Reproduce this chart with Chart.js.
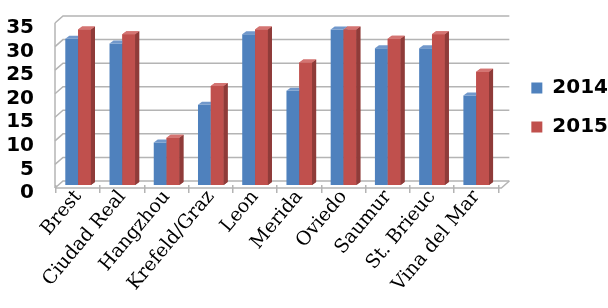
<!DOCTYPE html>
<html lang="en">
<head>
  <meta charset="UTF-8" />
  <title>2014 / 2015</title>
  <script src="https://cdn.jsdelivr.net/npm/chart.js"></script>
  <style>
    html, body { margin: 0; padding: 0; background: #fff; }
    #wrap { width: 608px; height: 308px; position: relative; }
  </style>
</head>
<body>
  <div id="wrap"><canvas id="grafico"></canvas></div>
  <script>
    const ciudades = ['Brest', 'Ciudad Real', 'Hangzhou', 'Krefeld/Graz', 'Leon', 'Merida', 'Oviedo', 'Saumur', 'St. Brieuc', 'Vina del Mar'];
    const valores2014 = [31, 30, 9, 17, 32, 20, 33, 29, 29, 19];
    const valores2015 = [33, 32, 10, 21, 33, 26, 33, 31, 32, 24];
    const yTicks = [0, 5, 10, 15, 20, 25, 30, 35];

    const gris = '#b4b4b4';
    const fondo = { dx: 7, dy: -4 };   // back wall offset
    const frente = { dx: -1, dy: 3 };  // front floor edge offset
    const prof = { dx: 4, dy: -3 };    // bar depth

    const caras = [
      { lado: '#3b5f8e', tapa: '#7198cb' },
      { lado: '#8f3b39', tapa: '#d47472' }
    ];

    function dibujarCaras(ctx, meta, c) {
      ctx.save();
      meta.data.forEach(b => {
        const l = b.x - b.width / 2, r = b.x + b.width / 2;
        ctx.fillStyle = c.lado;
        ctx.beginPath();
        ctx.moveTo(r, b.y);
        ctx.lineTo(r + prof.dx, b.y + prof.dy);
        ctx.lineTo(r + prof.dx, b.base + prof.dy);
        ctx.lineTo(r, b.base);
        ctx.closePath();
        ctx.fill();
        ctx.fillStyle = c.tapa;
        ctx.beginPath();
        ctx.moveTo(l, b.y);
        ctx.lineTo(l + prof.dx, b.y + prof.dy);
        ctx.lineTo(r + prof.dx, b.y + prof.dy);
        ctx.lineTo(r, b.y);
        ctx.closePath();
        ctx.fill();
      });
      ctx.restore();
    }

    // walls, floor and gridlines in fake 3D
    const paredes = {
      id: 'paredes',
      afterLayout(chart) {
        if (chart.legend) {
          chart.legend.left += 14;
          chart.legend.right += 14;
          chart.legend.top += 5;
          chart.legend.bottom += 5;
        }
      },
      beforeDatasetsDraw(chart) {
        const { ctx, chartArea: a, scales: { y } } = chart;
        ctx.save();
        ctx.strokeStyle = gris;
        ctx.lineWidth = 1.5;
        const bx = a.left + fondo.dx;
        const rx = a.right + 11;
        yTicks.forEach(v => {
          const yb = y.getPixelForValue(v) + fondo.dy;
          ctx.beginPath();
          ctx.moveTo(a.left + frente.dx, y.getPixelForValue(v) + frente.dy);
          ctx.lineTo(bx, yb);
          ctx.lineTo(rx, yb);
          ctx.stroke();
        });
        // left wall edge
        ctx.beginPath();
        ctx.moveTo(a.left + frente.dx, y.getPixelForValue(0) + frente.dy);
        ctx.lineTo(a.left + frente.dx, y.getPixelForValue(35) + frente.dy);
        ctx.stroke();
        // floor front edge and right side
        const yf = a.bottom + frente.dy;
        ctx.beginPath();
        ctx.moveTo(a.left + frente.dx, yf);
        ctx.lineTo(a.right + 3, yf);
        ctx.lineTo(rx, a.bottom + fondo.dy);
        ctx.stroke();
        ctx.restore();
      },
      afterDatasetDraw(chart, args) {
        dibujarCaras(chart.ctx, args.meta, caras[args.index]);
      },
      afterDatasetsDraw(chart) {
        // 2015 sits beside 2014: put it back on top so it hides the 2014 side face
        const meta = chart.getDatasetMeta(1);
        meta.controller.draw();
        dibujarCaras(chart.ctx, meta, caras[1]);
      }
    };

    new Chart(document.getElementById('grafico'), {
      type: 'bar',
      data: {
        labels: ciudades,
        datasets: [
          { label: '2014', data: valores2014, backgroundColor: '#4f81bd' },
          { label: '2015', data: valores2015, backgroundColor: '#c0504d' }
        ]
      },
      options: {
        responsive: true,
        maintainAspectRatio: false,
        animation: false,
        layout: { padding: { left: 6, top: 20, right: 4, bottom: 0 } },
        datasets: { bar: { categoryPercentage: 0.58, barPercentage: 1 } },
        scales: {
          x: {
            grid: { display: true, drawOnChartArea: false, drawTicks: true, tickLength: 8, color: gris, lineWidth: 1.5, offset: true },
            border: { display: false },
            ticks: {
              color: '#000',
              font: { family: 'DejaVu Serif', size: 19 },
              minRotation: 50, maxRotation: 50, padding: -7, autoSkip: false
            },
            afterFit: s => { s.height = 123; s.paddingLeft = 0; s.paddingRight = 0; }
          },
          y: {
            min: 0, max: 35,
            grid: { display: false, drawTicks: false },
            border: { display: false },
            ticks: {
              stepSize: 5, autoSkip: false, color: '#000', padding: 22, labelOffset: 8,
              font: { family: 'DejaVu Sans', size: 20, weight: 'bold' }
            },
            afterFit: s => { s.width = 50; s.paddingTop = 0; s.paddingBottom = 0; }
          }
        },
        plugins: {
          tooltip: { enabled: false },
          legend: {
            position: 'right',
            fullSize: false,
            labels: {
              boxWidth: 11, boxHeight: 11, padding: 19, color: '#000',
              font: { family: 'DejaVu Sans', size: 20, weight: 'bold' }
            }
          }
        }
      },
      plugins: [paredes]
    });
  </script>
</body>
</html>
